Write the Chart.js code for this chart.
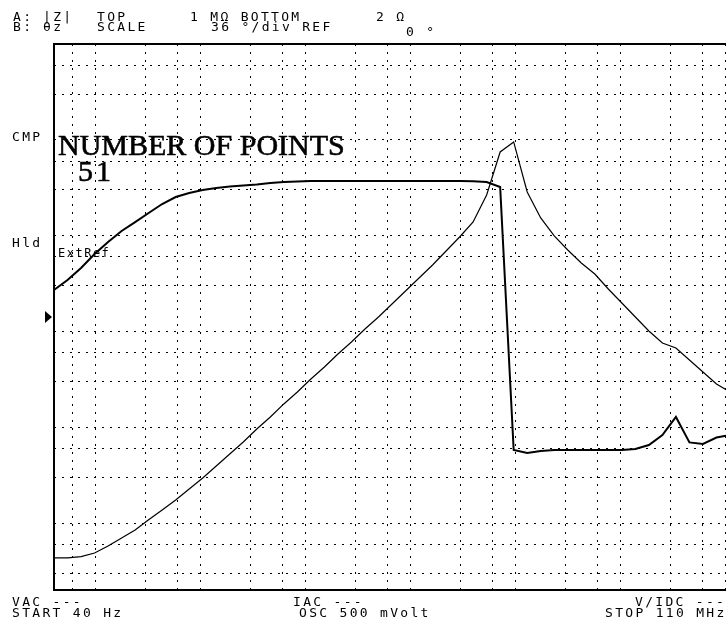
<!DOCTYPE html>
<html>
<head>
<meta charset="utf-8">
<title>Impedance sweep</title>
<script src="https://cdn.jsdelivr.net/npm/chart.js@4.4.1/dist/chart.umd.min.js"></script>
<style>
  html, body { margin: 0; padding: 0; background: #fff; overflow: hidden; }
  #wrap { position: absolute; left: 0; top: 0; width: 740px; height: 624px; }
</style>
</head>
<body>
<div id="wrap"><canvas id="sweep"></canvas></div>
<script>
// sweep setup (40 Hz .. 110 MHz, 51 log points)
var startHz = 40;
var stopHz = 110e6;
var numPoints = 51;

// |Z| in ohms, one value per sweep point
var zMag = [
  4.32, 4.32, 4.47, 4.87, 5.76, 6.98, 8.46, 10.8, 13.7, 17.4,
  22.7, 29.5, 39.4, 52.6, 70.1, 95.8, 128, 175, 233, 319,
  425, 581, 776, 1060, 1415, 1934, 2643, 3613, 4938, 6911,
  9676, 13900, 26600, 74650, 94960, 28540, 15280, 9914, 7080, 5182,
  3977, 2774, 1981, 1415, 1011, 757, 672, 503, 377, 283,
  233
];

// phase in degrees
var thetaZ = [
  17.8, 24.4, 32.3, 41.5, 49.4, 56.7, 62.6, 68.6, 74.5, 79.1,
  81.8, 83.7, 85.1, 86.0, 86.7, 87.4, 88.4, 89.0, 89.3, 89.7,
  89.7, 89.7, 89.7, 89.7, 89.7, 89.7, 89.7, 89.7, 89.7, 89.7,
  89.7, 89.5, 89.0, 85.7, -87.7, -89.7, -88.4, -87.7, -87.7, -87.7,
  -87.7, -87.7, -87.7, -87.0, -84.4, -77.8, -65.9, -82.7, -83.7, -79.5,
  -77.8
];

// graticule positions
var xGridHz = [60, 100, 300, 600, 1e3, 3e3, 6e3, 1e4, 3e4, 6e4, 1e5, 3e5, 6e5,
               1e6, 3e6, 6e6, 1e7, 3e7, 6e7, 1e8];
var zGridOhm = [3, 6, 10, 30, 60, 100, 300, 600, 1e3, 3e3, 6e3, 1e4, 3e4, 6e4,
                1e5, 3e5, 6e5];

var zTop = 1e6, zBottom = 2;
var degPerDiv = 36;

var freqs = [];
for (var i = 0; i < numPoints; i++) {
  freqs.push(startHz * Math.pow(stopHz / startHz, i / (numPoints - 1)));
}

var zPoints = freqs.map(function (f, i) { return { x: f, y: zMag[i] }; });
var thPoints = freqs.map(function (f, i) { return { x: f, y: thetaZ[i] }; });

var MONO = "'DejaVu Sans Mono', monospace";

// screen annotations + frame
var screenText = {
  id: 'screenText',
  afterDraw: function (chart) {
    var ctx = chart.ctx;
    var a = chart.chartArea;
    ctx.save();

    // frame
    ctx.strokeStyle = '#000';
    ctx.lineWidth = 2;
    ctx.strokeRect(a.left, a.top, a.right - a.left, a.bottom - a.top);

    ctx.fillStyle = '#000';
    ctx.textBaseline = 'alphabetic';
    ctx.font = '13px ' + MONO;
    ctx.letterSpacing = '2.3px';

    function t(s, x, y) { ctx.fillText(s, x, y); }

    // header
    t('A:', 13, 21); t('|Z|', 43, 21); t('TOP', 97, 21);
    t('1 M\u03A9 BOTTOM', 190, 21); t('2 \u03A9', 376, 21);
    t('B:', 13, 31); t('\u03B8z', 43, 31); t('SCALE', 97, 31);
    t('36 \u00B0/div REF', 211, 31); t('0 \u00B0', 406, 36);

    // footer
    t('VAC ---', 12, 606); t('START 40 Hz', 12, 617);
    t('IAC ---', 293, 606); t('OSC 500 mVolt', 299, 617);
    t('V/IDC ---', 635, 606); t('STOP 110 MHz', 605, 617);

    // side labels
    t('CMP', 12, 141);
    t('Hld', 12, 247);

    ctx.font = '12px ' + MONO;
    ctx.letterSpacing = '1.5px';
    t('ExtRef', 58, 257);

    ctx.letterSpacing = '0px';
    ctx.font = "30px 'Liberation Serif', serif";
    ctx.lineWidth = 0.6;
    t('NUMBER OF POINTS', 58, 155);
    ctx.strokeText('NUMBER OF POINTS', 58, 155);
    ctx.letterSpacing = '3px';
    t('51', 78, 181);
    ctx.strokeText('51', 78, 181);

    // phase reference marker
    var yRef = chart.scales.yTheta.getPixelForValue(0);
    ctx.beginPath();
    ctx.moveTo(45, yRef - 6);
    ctx.lineTo(52, yRef);
    ctx.lineTo(45, yRef + 6);
    ctx.closePath();
    ctx.fill();

    ctx.restore();
  }
};

var gridStyle = { color: '#000', lineWidth: 1, drawTicks: false };
var dots = { display: false, dash: [2, 6] };

new Chart(document.getElementById('sweep'), {
  type: 'line',
  data: {
    datasets: [{
      label: '|Z|',
      data: zPoints,
      yAxisID: 'yZ',
      borderColor: '#000',
      borderWidth: 1.2,
      pointRadius: 0,
      tension: 0
    }, {
      label: '\u03B8z',
      data: thPoints,
      yAxisID: 'yTheta',
      borderColor: '#000',
      borderWidth: 2,
      pointRadius: 0,
      tension: 0
    }]
  },
  options: {
    responsive: true,
    maintainAspectRatio: false,
    devicePixelRatio: 1,
    animation: false,
    layout: { padding: { left: 54, top: 44, right: 10, bottom: 34 } },
    plugins: { legend: { display: false }, tooltip: { enabled: false } },
    scales: {
      x: {
        type: 'logarithmic',
        min: startHz,
        max: stopHz,
        afterBuildTicks: function (scale) {
          scale.ticks = xGridHz.map(function (v) { return { value: v }; });
        },
        ticks: { display: false },
        grid: gridStyle,
        border: dots
      },
      yZ: {
        type: 'logarithmic',
        position: 'left',
        min: zBottom,
        max: zTop,
        afterBuildTicks: function (scale) {
          scale.ticks = zGridOhm.map(function (v) { return { value: v }; });
        },
        ticks: { display: false },
        grid: gridStyle,
        border: dots
      },
      yTheta: {
        type: 'linear',
        position: 'right',
        display: false,
        min: -5 * degPerDiv,
        max: 5 * degPerDiv,
        grid: { display: false }
      }
    }
  },
  plugins: [screenText]
});
</script>
</body>
</html>
